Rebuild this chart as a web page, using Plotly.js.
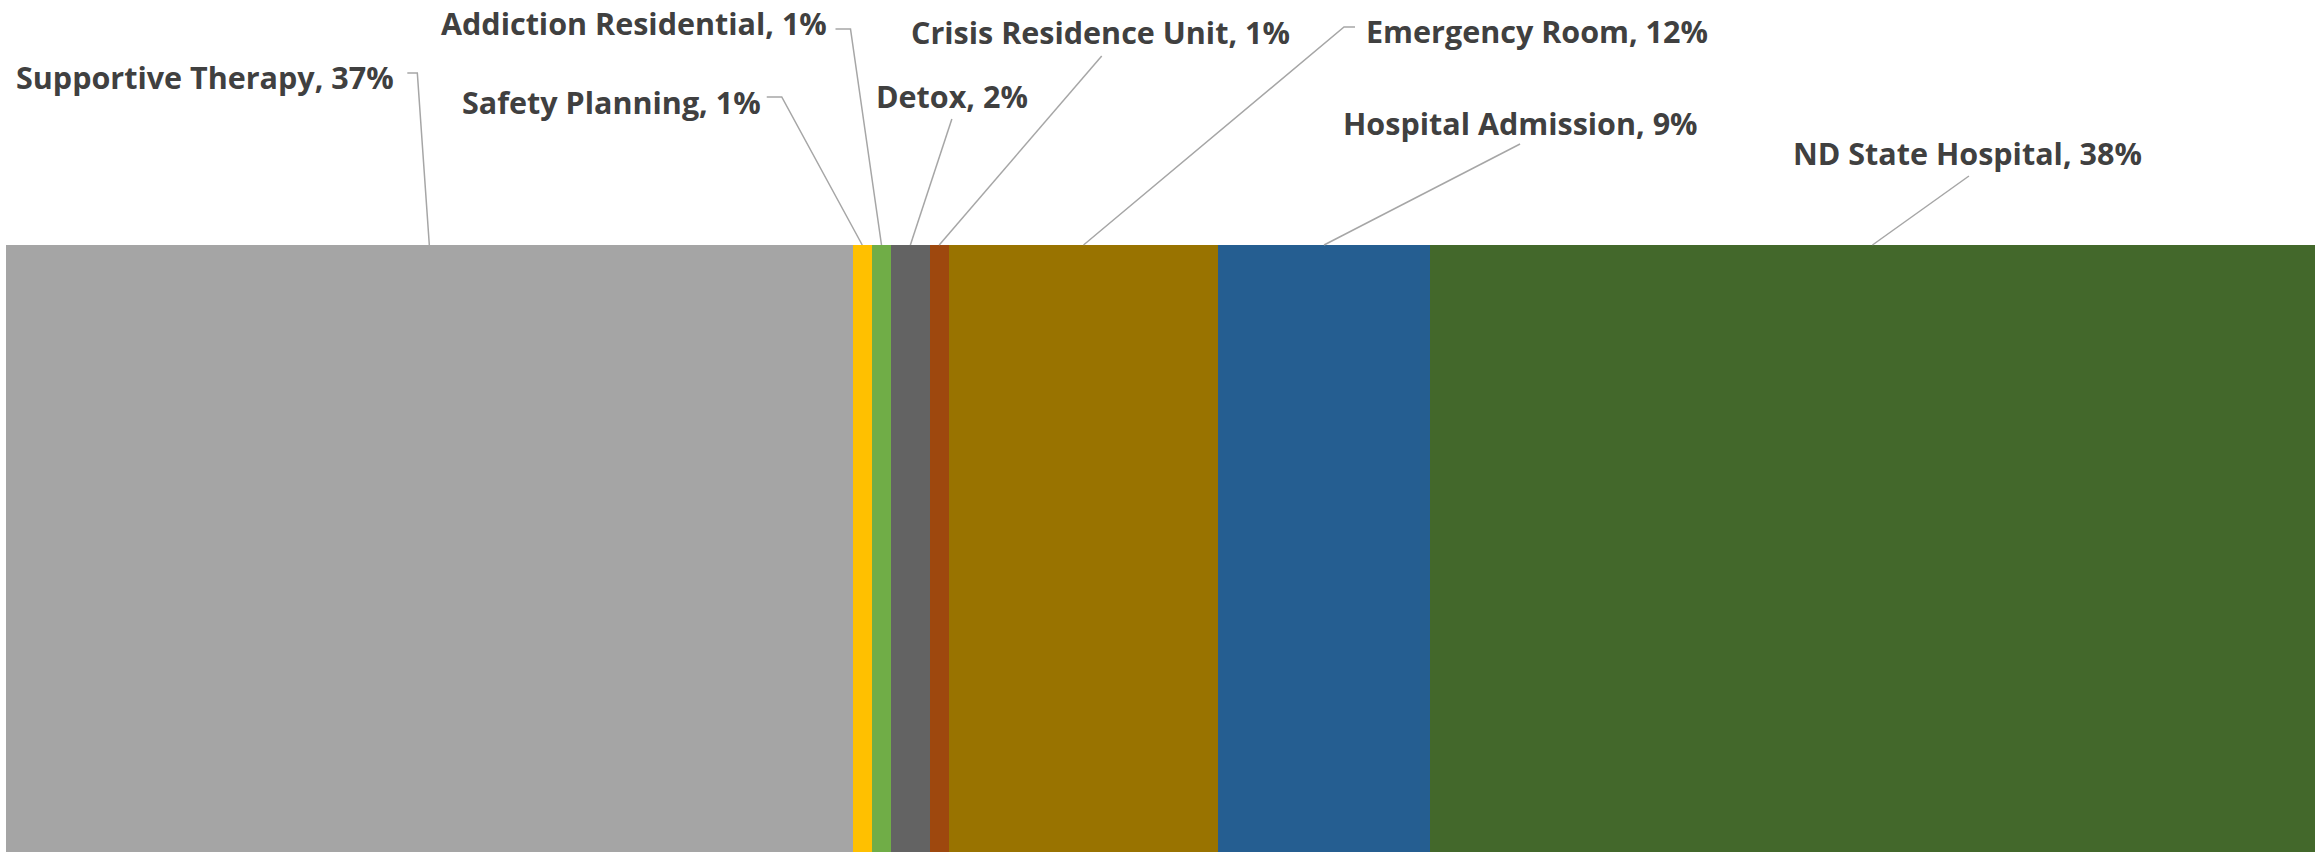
<!DOCTYPE html>
<html>
<head>
<meta charset="utf-8">
<script src="https://cdn.plot.ly/plotly-3.0.1.min.js"></script>
<style>html,body{margin:0;padding:0;background:#fff;}#chart{width:2323px;height:852px;}</style>
</head>
<body>
<div id="chart"></div>
<script>
// ---- data ----
const categories = ["Supportive Therapy", "Safety Planning", "Addiction Residential", "Detox",
                    "Crisis Residence Unit", "Emergency Room", "Hospital Admission", "ND State Hospital"];
const counts = [44, 1, 1, 2, 1, 14, 11, 46];

// ---- styles ----
const colors = ["#A5A5A5", "#FFC000", "#70AD47", "#636363", "#9E480E", "#997300", "#255E91", "#43682B"];
// label placement relative to top-centre of each segment (pixels, y upward)
const labelDx = [-33.5, -99.5, -53, 41.5, 161.5, 280.5, 196.5, 95.5];
const labelDy = [168.5, 143, 222.5, 149, 213, 214, 122.5, 92];
const labelAnchor = ["right", "right", "right", "center", "center", "left", "center", "center"];
// leader paths (pixel offsets from segment top-centre)
const leaderPts = [
  [[0,0],[-12,172],[-22,172]],
  [[0,0],[-80.5,148],[-95.5,148]],
  [[0,0],[-31,216],[-46,216]],
  [[0,0],[41.5,126]],
  [[0,0],[162.5,189]],
  [[0,0],[260.5,218],[271.5,218]],
  [[0,0],[196,101]],
  [[0,0],[96.5,69]]
];

const total = counts.reduce((a, b) => a + b, 0);
const traces = categories.map((c, i) => ({
  type: "bar", orientation: "h", name: c,
  x: [counts[i]], y: [0], width: 1,
  marker: {color: colors[i], line: {width: 0}},
  hoverinfo: "none", showlegend: false
}));

const annotations = [];
const shapes = [];
let cum = 0;
categories.forEach((c, i) => {
  const mid = cum + counts[i] / 2;
  cum += counts[i];
  const pct = Math.round(counts[i] / total * 100);
  annotations.push({
    xref: "x", yref: "paper", x: mid, y: 1,
    xshift: labelDx[i], yshift: labelDy[i],
    xanchor: labelAnchor[i], yanchor: "middle",
    text: c + ", " + pct + "%", showarrow: false,
    font: {family: "Open Sans", size: 30.5, color: "#404040", weight: 700}
  });
  const p = leaderPts[i].map((pt, k) => (k === 0 ? "M" : "L") + pt[0] + "," + pt[1]).join(" ");
  shapes.push({
    type: "path", xref: "x", yref: "paper",
    xsizemode: "pixel", ysizemode: "pixel",
    xanchor: mid, yanchor: 1, path: p,
    line: {color: "#A6A6A6", width: 1.5}
  });
});

const layout = {
  width: 2323, height: 852,
  margin: {l: 6, r: 8, t: 245, b: 0, pad: 0},
  paper_bgcolor: "#fff", plot_bgcolor: "#fff",
  barmode: "stack", bargap: 0,
  xaxis: {range: [0, total], visible: false, fixedrange: true},
  yaxis: {range: [-0.5, 0.5], visible: false, fixedrange: true},
  annotations: annotations,
  shapes: shapes
};
Plotly.newPlot("chart", traces, layout, {staticPlot: true, displayModeBar: false});
</script>
</body>
</html>
